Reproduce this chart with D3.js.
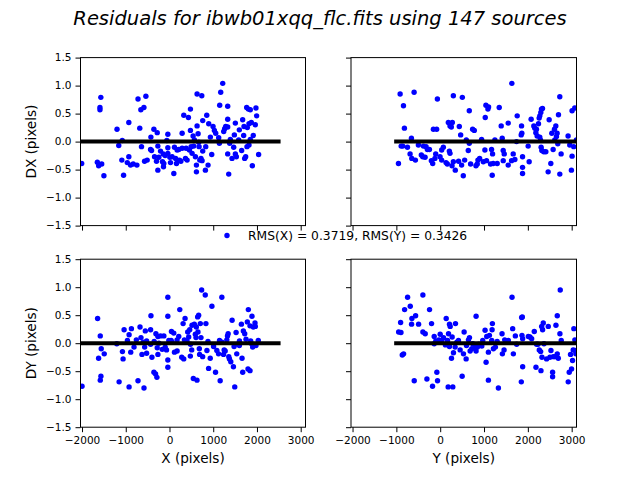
<!DOCTYPE html>
<html>
<head>
<meta charset="utf-8">
<script src="https://cdn.jsdelivr.net/npm/d3@7"></script>
<style>
  body { margin: 0; background: #fff; }
  text { font-family: "DejaVu Sans", sans-serif; }
</style>
</head>
<body>
<div id="chart"></div>
<script>
var title = "Residuals for ibwb01xqq_flc.fits using 147 sources";
var legendText = "RMS(X) = 0.3719, RMS(Y) = 0.3426";
var xTicks = [-2000, -1000, 0, 1000, 2000, 3000];
var yTicks = [-1.5, -1.0, -0.5, 0.0, 0.5, 1.0, 1.5];

// X (pixels) vs DX
var dxByX = [
  [-2008,-0.39],[-1650,-0.37],[-1620,-0.43],[-1550,-0.40],[-1590,0.61],[-1590,0.57],[-1570,0.79],
  [-1500,-0.61],[-1200,0.22],[-1160,-0.07],[-1080,0.02],[-1090,-0.33],[-1050,-0.60],[-930,0.34],
  [-930,-0.27],[-965,-0.375],[-890,-0.42],[-830,-0.40],[-745,-0.42],[-720,0.76],[-680,0.24],
  [-655,0.57],[-585,0.61],[-540,0.81],[-640,-0.09],[-570,-0.35],[-510,-0.33],[-425,0.08],
  [-410,-0.16],[-433,-0.14],[-357,0.22],[-342,-0.27],[-297,-0.35],[-266,-0.51],[-280,0.16],
  [-243,-0.28],[-205,-0.17],[-266,-0.08],[-144,-0.22],[-130,-0.39],[-137,-0.45],[-60,0.02],
  [-38,0.13],[-38,-0.11],[-38,-0.21],[8,-0.28],[23,-0.375],[99,-0.57],[114,-0.10],[160,-0.39],
  [175,-0.15],[228,-0.33],[213,-0.14],[289,0.15],[289,-0.12],[327,0.47],[365,-0.30],[380,-0.12],
  [433,0.43],[479,0.58],[479,0.20],[456,-0.15],[494,-0.09],[517,-0.21],[540,0.10],[555,-0.08],
  [570,0.03],[593,-0.27],[616,-0.42],[616,-0.54],[631,0.28],[631,0.85],[654,0.14],[669,-0.01],
  [677,-0.09],[692,-0.33],[738,0.82],[745,-0.34],[760,0.375],[760,-0.17],[821,-0.51],[829,-0.09],
  [852,0.47],[882,-0.42],[897,0.32],[935,0.08],[966,-0.23],[996,0.27],[1027,0.20],[1057,0.15],
  [1125,0.07],[1141,-0.03],[1148,0.65],[1171,0.88],[1217,1.04],[1240,0.18],[1262,0.23],[1285,0.27],
  [1331,0.63],[1331,0.40],[1331,0.26],[1331,-0.22],[1354,-0.58],[1376,-0.03],[1391,0.04],
  [1430,-0.30],[1468,-0.10],[1483,0.12],[1506,0.33],[1506,-0.22],[1529,-0.27],[1582,0.03],
  [1597,0.21],[1650,-0.16],[1673,0.39],[1696,0.11],[1704,0.27],[1719,-0.30],[1742,-0.27],
  [1765,0.61],[1780,0.25],[1803,0.58],[1818,0.32],[1818,-0.06],[1848,0.57],[1848,0.04],
  [1871,0.34],[1894,-0.43],[1916,0.11],[1962,0.30],[1977,0.60],[1992,0.46],[2038,-0.23],
  [1772,-0.09],[-160,-0.36],[60,-0.27],[403,-0.33],[-100,-0.25],[140,-0.30],[260,-0.35],[720,-0.30]
];

// Y (pixels) vs DX
var dxByY = [
  [-952,-0.39],[-914,0.85],[-891,-0.08],[-838,0.64],[-853,-0.08],[-816,0.24],[-747,-0.10],
  [-687,-0.22],[-656,0.06],[-648,-0.30],[-595,0.88],[-565,-0.33],[-497,-0.06],[-398,-0.27],
  [-383,-0.08],[-345,-0.28],[-322,-0.09],[-292,-0.14],[-246,-0.14],[-201,-0.34],[-171,-0.39],
  [-155,0.22],[-80,0.22],[-64,0.76],[-102,-0.22],[-4,-0.27],[34,-0.15],[72,-0.10],[34,-0.33],
  [133,-0.375],[163,-0.40],[186,0.34],[224,0.28],[224,-0.21],[209,-0.17],[254,0.26],[277,0.34],
  [300,0.82],[270,-0.43],[300,-0.36],[345,-0.51],[436,0.27],[467,0.12],[489,-0.42],[505,0.79],
  [527,-0.61],[558,-0.33],[596,0.03],[641,-0.16],[664,-0.03],[664,0.55],[694,-0.40],[740,0.22],
  [778,0.20],[816,-0.43],[846,-0.40],[861,-0.33],[945,0.04],[983,-0.36],[1028,0.43],[1043,0.65],
  [1020,-0.15],[1104,0.62],[1089,0.58],[1058,-0.34],[1149,-0.40],[1172,-0.14],[1187,-0.60],
  [1195,-0.22],[1210,-0.39],[1248,0.03],[1301,-0.39],[1347,0.61],[1392,0.28],[1415,0.06],
  [1438,-0.16],[1461,-0.22],[1438,-0.34],[1552,-0.42],[1552,0.33],[1635,1.04],[1628,-0.34],
  [1666,-0.22],[1704,-0.32],[1757,0.46],[1742,0.0],[1856,0.28],[1863,0.15],[1879,-0.27],
  [1879,-0.46],[1879,-0.57],[1848,0.12],[2007,-0.08],[2030,-0.36],[2075,0.40],[2136,0.28],
  [2159,0.24],[2182,0.16],[2197,0.22],[2212,0.10],[2243,0.32],[2258,0.42],[2273,0.46],[2296,0.52],
  [2311,0.58],[2334,0.59],[2273,0.08],[2288,0.03],[2303,-0.10],[2319,-0.16],[2364,-0.18],
  [2410,-0.18],[2463,-0.54],[2486,0.39],[2524,-0.39],[2547,0.15],[2577,-0.14],[2607,0.22],
  [2615,0.03],[2638,0.28],[2653,0.09],[2668,0.15],[2683,-0.04],[2699,0.48],[2729,0.80],
  [2729,-0.58],[2759,-0.22],[2918,0.10],[2956,-0.06],[2994,-0.51],[3009,-0.26],[3009,0.55],
  [3047,-0.09],[3070,0.60],[3108,0.03],[-430,-0.24],[-120,-0.30],[420,-0.35],[900,-0.30]
];

// X (pixels) vs DY
var dyByX = [
  [-2000,-0.77],[-1644,0.44],[-1621,-0.27],[-1583,0.13],[-1561,-0.10],[-1568,-0.59],[-1583,-0.66],
  [-1492,-0.19],[-1205,-0.01],[-1152,-0.69],[-1076,-0.15],[-1061,-0.28],[-1038,0.24],[-962,0.05],
  [-924,0.15],[-924,-0.78],[-871,0.26],[-886,-0.16],[-811,-0.07],[-758,0.06],[-720,-0.67],
  [-674,0.29],[-652,0.10],[-629,-0.20],[-583,-0.80],[-553,0.22],[-568,-0.07],[-523,0.04],
  [-523,-0.18],[-432,0.24],[-424,0.49],[-402,-0.25],[-432,-0.02],[-356,-0.52],[-318,-0.55],
  [-288,-0.61],[-311,0.17],[-265,0.12],[-265,-0.20],[-242,0.0],[-280,-0.08],[-205,0.13],
  [-167,-0.11],[-129,0.13],[-98,-0.07],[-68,-0.12],[-38,0.82],[-38,0.48],[-38,-0.30],[-38,-0.43],
  [-15,0.05],[38,0.05],[45,0.21],[98,0.18],[114,-0.16],[174,-0.14],[174,0.06],[212,0.12],
  [235,0.60],[280,-0.25],[326,-0.28],[311,0.35],[356,0.44],[341,0.06],[401,0.04],[417,0.20],
  [439,0.11],[462,0.24],[477,-0.23],[508,-0.12],[515,0.32],[545,-0.63],[568,0.34],[591,0.16],
  [606,0.10],[614,0.29],[629,-0.66],[644,0.47],[651,0.20],[667,0.50],[682,-0.10],[689,-0.20],
  [705,0.35],[720,0.10],[735,0.95],[758,-0.24],[818,0.86],[833,0.35],[856,-0.13],[894,-0.45],
  [932,-0.27],[970,0.66],[1008,-0.06],[1053,-0.52],[1083,-0.13],[1121,-0.19],[1144,0.05],
  [1159,-0.67],[1197,0.82],[1235,-0.20],[1250,-0.12],[1273,-0.14],[1311,0.06],[1326,0.13],
  [1341,0.17],[1356,-0.24],[1371,-0.28],[1402,-0.33],[1432,0.41],[1462,-0.42],[1477,-0.06],
  [1492,-0.78],[1523,0.19],[1538,-0.19],[1561,-0.02],[1598,-0.04],[1644,0.34],[1659,-0.27],
  [1674,-0.52],[1689,0.22],[1720,0.17],[1750,0.07],[1780,0.38],[1795,-0.46],[1803,0.60],
  [1841,-0.49],[1841,0.31],[1856,0.04],[1886,0.48],[1902,-0.07],[1917,0.29],[1955,0.36],
  [1962,0.30],[1977,-0.04],[2030,0.05],[1879,-0.01],[-600,0.02],[-350,0.03],[60,0.02],[480,-0.02],
  [880,0.03],[1200,0.02],[1600,0.04]
];

// Y (pixels) vs DY
var dyByY = [
  [-948,0.20],[-895,0.19],[-903,0.37],[-865,-0.21],[-835,-0.19],[-812,0.60],[-744,0.82],
  [-683,0.66],[-645,0.44],[-653,0.34],[-561,0.49],[-592,-0.67],[-493,0.34],[-395,0.86],
  [-395,0.20],[-341,0.17],[-303,-0.64],[-243,0.60],[-197,0.35],[-175,-0.77],[-137,0.12],
  [-137,-0.01],[-76,-0.52],[-61,-0.67],[0,0.16],[-30,0.06],[38,0.05],[76,0.10],[137,0.44],
  [167,0.05],[190,0.17],[212,0.34],[228,0.30],[212,-0.06],[258,-0.27],[273,0.11],[288,-0.78],
  [182,-0.78],[303,-0.17],[349,0.35],[341,-0.07],[417,0.05],[455,-0.12],[501,-0.59],[546,0.20],
  [531,-0.19],[592,-0.28],[645,0.06],[668,0.10],[683,-0.14],[721,-0.10],[743,-0.01],[797,-0.07],
  [819,-0.14],[819,0.48],[850,-0.07],[880,-0.02],[971,0.05],[1024,0.23],[1047,-0.34],[1062,0.12],
  [1100,-0.66],[1100,-0.16],[1123,0.14],[1184,0.24],[1191,0.35],[1176,0.05],[1214,-0.10],
  [1260,-0.07],[1328,-0.80],[1411,0.17],[1419,-0.19],[1457,-0.12],[1472,0.06],[1555,0.05],
  [1639,0.82],[1654,0.26],[1669,-0.19],[1715,0.13],[1745,-0.02],[1851,-0.69],[1859,0.46],
  [1874,0.47],[1882,-0.42],[1866,0.14],[1882,0.08],[2011,0.12],[2049,0.11],[2087,0.08],
  [2147,0.21],[2185,-0.43],[2200,-0.02],[2231,-0.02],[2261,-0.12],[2292,-0.15],[2299,-0.49],
  [2315,0.30],[2322,-0.25],[2337,0.24],[2352,0.36],[2368,-0.01],[2428,-0.28],[2466,0.30],
  [2504,-0.25],[2527,-0.13],[2565,-0.52],[2565,-0.60],[2580,-0.24],[2618,-0.24],[2641,0.32],
  [2671,0.49],[2671,-0.19],[2694,-0.27],[2732,0.17],[2739,0.95],[2762,0.05],[2921,-0.69],
  [2944,-0.52],[2974,-0.20],[2997,-0.46],[3020,-0.31],[3035,-0.12],[3050,0.26],[3073,0.06],
  [3080,-0.13],[3096,-0.19],[-100,0.04],[120,-0.03],[380,0.02],[600,-0.04],[950,-0.05],[1300,0.03]
];

var W = 640, H = 480;
var svg = d3.select("#chart").append("svg")
    .attr("width", W).attr("height", H);

var cols = [{x0: 80.5, x1: 305.5}, {x0: 351, x1: 576.5}];
var rows = [{y0: 57.6, y1: 225.6}, {y0: 259.2, y1: 427.2}];

var panels = [
  {data: dxByX, c: 0, r: 0, zero: [-2035, 2540], ylab: "DX (pixels)"},
  {data: dxByY, c: 1, r: 0, zero: [-1050, 3110]},
  {data: dyByX, c: 0, r: 1, zero: [-2035, 2540], ylab: "DY (pixels)", xlab: "X (pixels)"},
  {data: dyByY, c: 1, r: 1, zero: [-1050, 3110], xlab: "Y (pixels)"}
];

panels.forEach(function(p, i) {
  var col = cols[p.c], row = rows[p.r];
  var x = d3.scaleLinear().domain([-2035, 3110]).range([col.x0, col.x1]);
  var y = d3.scaleLinear().domain([-1.5, 1.5]).range([row.y1, row.y0]);

  svg.append("clipPath").attr("id", "clip" + i)
    .append("rect")
    .attr("x", col.x0).attr("y", row.y0)
    .attr("width", col.x1 - col.x0).attr("height", row.y1 - row.y0);

  var g = svg.append("g").attr("clip-path", "url(#clip" + i + ")");

  g.selectAll("circle")
    .data(p.data)
    .enter()
    .append("circle")
    .attr("cx", function(d) { return x(d[0]); })
    .attr("cy", function(d) { return y(d[1]); })
    .attr("r", 2.7)
    .attr("fill", "#0000ff");

  g.append("line")
    .attr("x1", x(p.zero[0])).attr("x2", x(p.zero[1]))
    .attr("y1", y(0)).attr("y2", y(0))
    .style("stroke", "black")
    .style("stroke-width", 4);

  var xAxis = d3.axisBottom(x).tickValues(xTicks).tickSize(5).tickPadding(4)
    .tickFormat(p.r == 1 ? d3.format("d") : "");
  var yAxis = d3.axisLeft(y).tickValues(yTicks).tickSize(5).tickPadding(4)
    .tickFormat(p.c == 0 ? d3.format(".1f") : "");

  var gx = svg.append("g").attr("transform", "translate(0," + row.y1 + ")").call(xAxis);
  var gy = svg.append("g").attr("transform", "translate(" + col.x0 + ",0)").call(yAxis);
  [gx, gy].forEach(function(a) {
    a.select(".domain").remove();
    a.selectAll("line").style("stroke", "black").style("stroke-width", 1);
    a.selectAll("text").style("font-family", "DejaVu Sans").style("font-size", "10.5px").style("fill", "black");
  });

  svg.append("rect")
    .attr("x", col.x0).attr("y", row.y0)
    .attr("width", col.x1 - col.x0).attr("height", row.y1 - row.y0)
    .attr("fill", "none").attr("stroke", "black").attr("stroke-width", 1);

  if (p.ylab) {
    svg.append("text")
      .attr("transform", "translate(36," + ((row.y0 + row.y1) / 2) + ") rotate(-90)")
      .attr("text-anchor", "middle")
      .style("font-size", "13.6px")
      .text(p.ylab);
  }
  if (p.xlab) {
    svg.append("text")
      .attr("x", (col.x0 + col.x1) / 2).attr("y", 463)
      .attr("text-anchor", "middle")
      .style("font-size", "13.6px")
      .text(p.xlab);
  }
});

svg.append("text")
  .attr("x", 320).attr("y", 25)
  .attr("text-anchor", "middle")
  .style("font-size", "19.5px")
  .style("font-style", "italic")
  .text(title);

svg.append("circle")
  .attr("cx", 227).attr("cy", 235.5).attr("r", 2.7).attr("fill", "#0000ff");
svg.append("text")
  .attr("x", 248).attr("y", 240)
  .style("font-size", "12.3px")
  .text(legendText);
</script>
</body>
</html>
